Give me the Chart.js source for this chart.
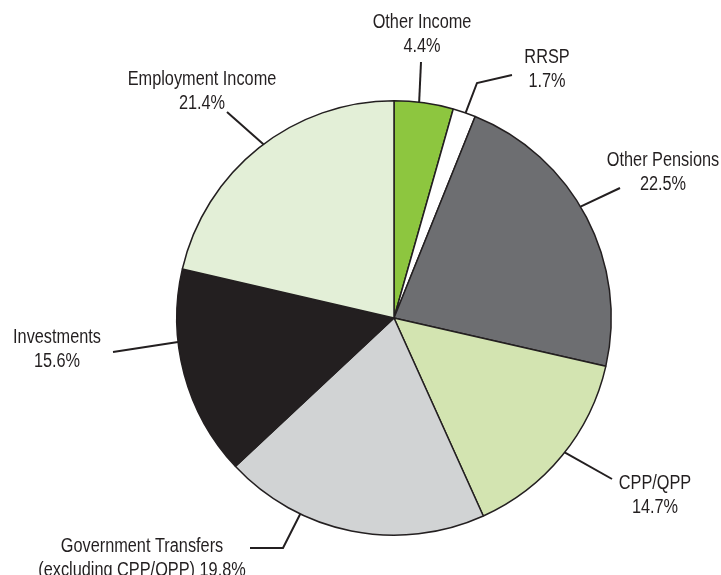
<!DOCTYPE html>
<html>
<head>
<meta charset="utf-8">
<script src="https://cdn.jsdelivr.net/npm/chart.js@4.4.1/dist/chart.umd.min.js"></script>
<style>
  html, body { margin: 0; padding: 0; background: #ffffff; }
  #income { display: block; }
</style>
</head>
<body>
<canvas id="income" width="721" height="575"></canvas>
<script>
// income sources, clockwise from 12 o'clock
var sources = ["Other Income", "RRSP", "Other Pensions", "CPP/QPP",
               "Government Transfers", "Investments", "Employment Income"];
var shares = [4.4, 1.7, 22.5, 14.7, 19.8, 15.6, 21.4];
var labelLines = [
    ["Other Income", "4.4%"],
    ["RRSP", "1.7%"],
    ["Other Pensions", "22.5%"],
    ["CPP/QPP", "14.7%"],
    ["Government Transfers", "(excluding CPP/QPP) 19.8%"],
    ["Investments", "15.6%"],
    ["Employment Income", "21.4%"]
];
var sliceColors = ["#8dc63f", "#ffffff", "#6d6e71", "#d3e4b1",
                   "#d1d3d4", "#231f20", "#e3efd7"];

// callout layout: text centre x, first baseline y, leader end, optional elbow,
// and where along the slice (0..1) the leader touches the rim
var callouts = [
    { x: 422, y: 28,  end: [421, 62],  elbow: null,       at: 0.42 },
    { x: 547, y: 63,  end: [512, 75],  elbow: [477, 83],  at: 0.56 },
    { x: 663, y: 166, end: [620, 188], elbow: null,       at: 0.46 },
    { x: 655, y: 489, end: [612, 479], elbow: null,       at: 0.48 },
    { x: 142, y: 552, end: [250, 548], elbow: [283, 548], at: 0.70 },
    { x: 57,  y: 343, end: [113, 352], elbow: null,       at: 0.655 },
    { x: 202, y: 85,  end: [227, 112], elbow: null,       at: 0.52 }
];

// narrow lettering: regular face squeezed horizontally
var squeeze = 0.815;

var calloutPlugin = {
    id: "callouts",
    afterDatasetsDraw: function (chart) {
        var ctx = chart.ctx;
        var arcs = chart.getDatasetMeta(0).data;
        ctx.save();
        ctx.strokeStyle = "#231f20";
        ctx.lineWidth = 2;
        ctx.fillStyle = "#231f20";
        ctx.font = '20px "Liberation Sans", Arial, sans-serif';
        ctx.textAlign = "center";
        ctx.textBaseline = "alphabetic";

        arcs.forEach(function (arc, i) {
            var c = callouts[i];
            var ang = arc.startAngle + (arc.endAngle - arc.startAngle) * c.at;
            var ax = arc.x + Math.cos(ang) * arc.outerRadius;
            var ay = arc.y + Math.sin(ang) * arc.outerRadius;

            ctx.beginPath();
            ctx.moveTo(c.end[0], c.end[1]);
            if (c.elbow) { ctx.lineTo(c.elbow[0], c.elbow[1]); }
            ctx.lineTo(ax, ay);
            ctx.stroke();

            labelLines[i].forEach(function (line, k) {
                ctx.save();
                ctx.translate(c.x, c.y + k * 24);
                ctx.scale(squeeze, 1);
                ctx.fillText(line, 0, 0);
                ctx.restore();
            });
        });
        ctx.restore();
    }
};

new Chart(document.getElementById("income"), {
    type: "pie",
    data: {
        labels: sources,
        datasets: [{
            data: shares,
            backgroundColor: sliceColors,
            borderColor: "#231f20",
            borderWidth: 1.5
        }]
    },
    options: {
        responsive: false,
        animation: false,
        layout: { padding: { left: 176, right: 109, top: 100, bottom: 39 } },
        plugins: {
            legend: { display: false },
            tooltip: { enabled: false }
        }
    },
    plugins: [calloutPlugin]
});
</script>
</body>
</html>
